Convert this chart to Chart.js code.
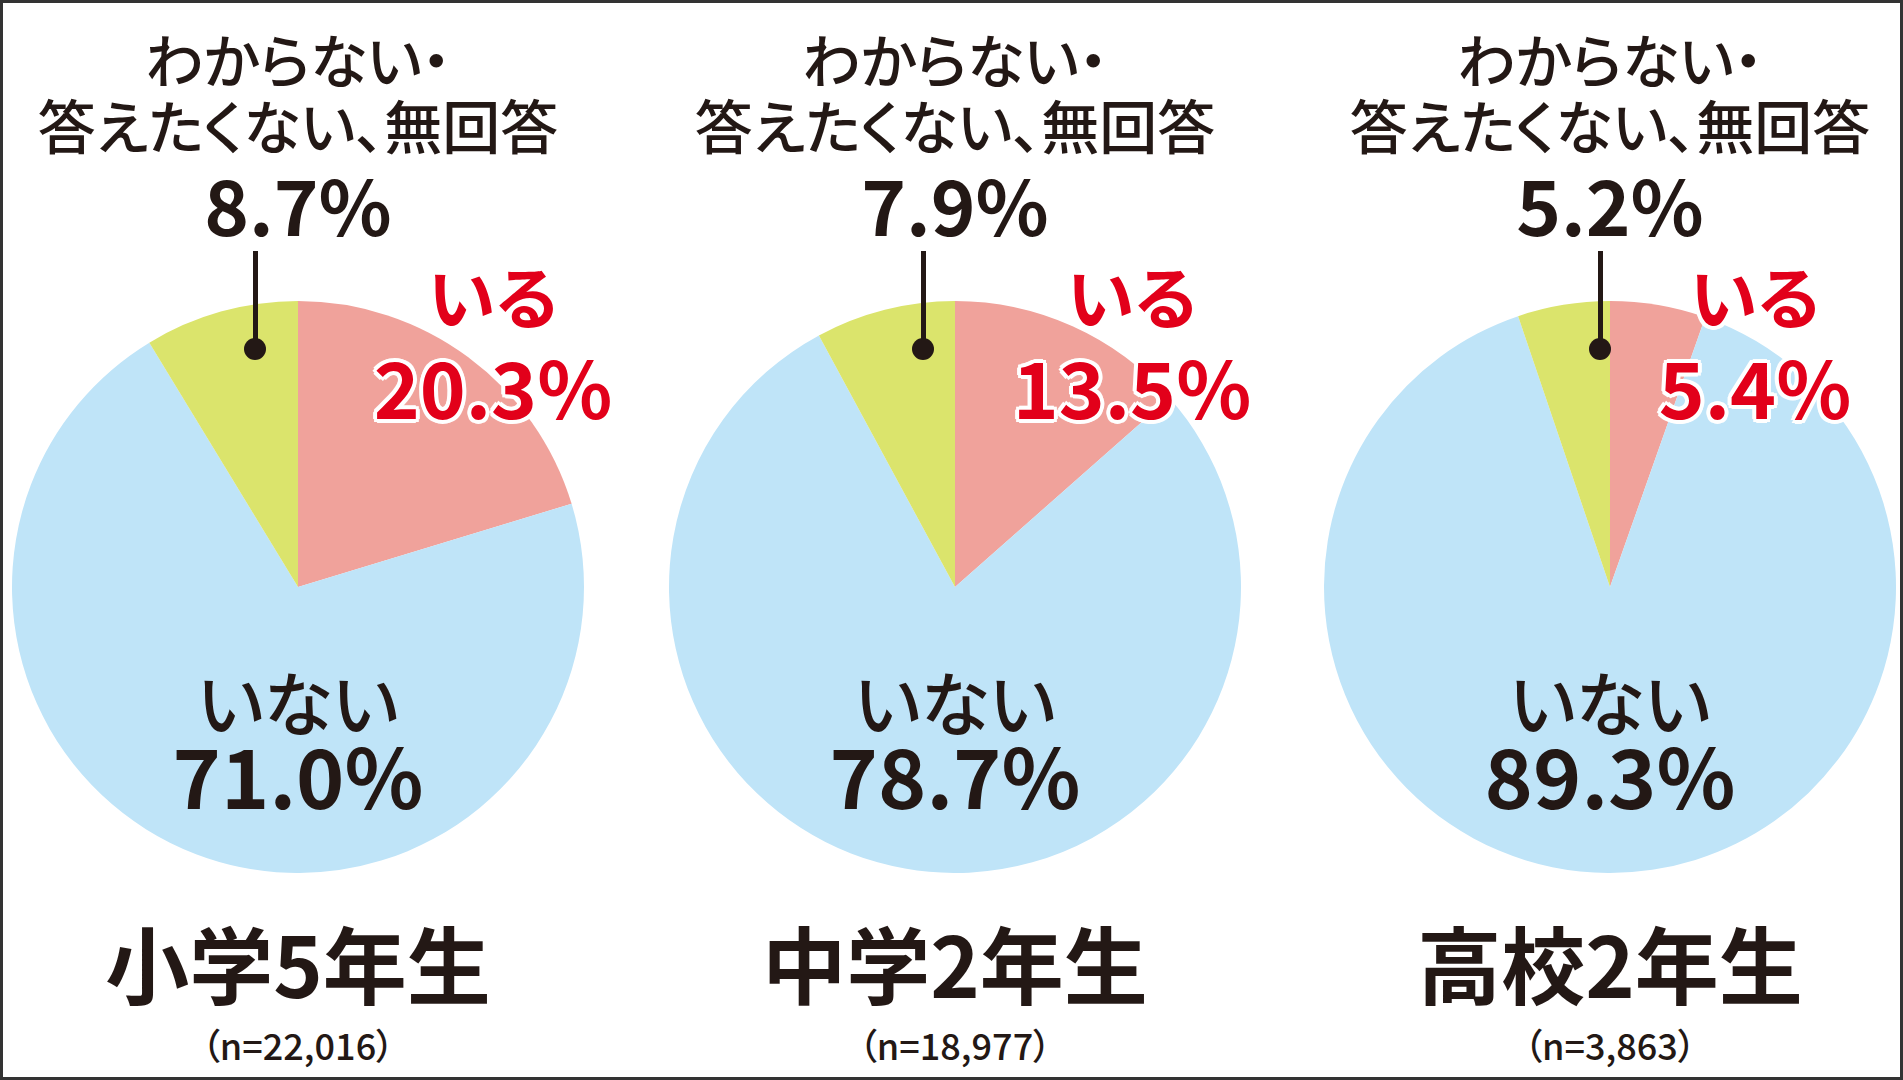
<!DOCTYPE html>
<html><head><meta charset="utf-8">
<script src="https://cdn.jsdelivr.net/npm/chart.js@4"></script>
<style>
body{margin:0;background:#fff;font-family:"Noto Sans CJK JP","Noto Sans",sans-serif;color:#231815}
#frame{position:absolute;left:0;top:0;width:1897px;height:1074px;border:3px solid #333;overflow:hidden}
.box{position:absolute;width:572px;height:572px}
.t{position:absolute;transform:translate(-50%,-50%);white-space:nowrap;line-height:1;font-feature-settings:"palt"}
.red{color:#e2001a;font-weight:700;text-shadow:0 0 4px #fff,0 0 4px #fff,3px 3px 0 #fff,-3px -3px 0 #fff,3px -3px 0 #fff,-3px 3px 0 #fff,0 4px 0 #fff,0 -4px 0 #fff,4px 0 0 #fff,-4px 0 0 #fff}
.lead{position:absolute;width:5px;background:#231815}
.dot{position:absolute;width:22px;height:22px;border-radius:50%;background:#231815}
</style></head><body>
<div id="frame"></div>
<script>
// data
const groups = ["小学5年生","中学2年生","高校2年生"];
const sampleSizes = ["（n=22,016）","（n=18,977）","（n=3,863）"];
const sliceLabels = ["いる","いない","わからない・答えたくない、無回答"];
const iru = [20.3, 13.5, 5.4];
const inai = [71.0, 78.7, 89.3];
const unknown = [8.7, 7.9, 5.2];
const colors = ["#f0a29b","#bfe4f8","#dbe46c"];

const centersX = [295, 952, 1607];
const cy = 584, r = 286;
const leadX = [252, 920, 1597];
const iruX = [490, 1129, 1752];
const frame = document.getElementById("frame");

function addText(txt, x, y, size, weight, cls){
  let d = document.createElement("div");
  d.className = "t" + (cls ? " " + cls : "");
  d.textContent = txt;
  d.style.left = x + "px"; d.style.top = y + "px";
  d.style.fontSize = size + "px"; d.style.fontWeight = weight;
  frame.appendChild(d);
}

groups.forEach((g, i) => {
  let box = document.createElement("div");
  box.className = "box";
  box.style.left = (centersX[i] - r) + "px";
  box.style.top = (cy - r) + "px";
  let c = document.createElement("canvas");
  box.appendChild(c);
  frame.appendChild(box);
  new Chart(c, {
    type: "pie",
    data: {labels: sliceLabels, datasets: [{data: [iru[i], inai[i], unknown[i]], backgroundColor: colors, borderWidth: 0}]},
    options: {responsive: true, maintainAspectRatio: false, animation: false,
      layout: {padding: 0},
      plugins: {legend: {display: false}, tooltip: {enabled: false}}}
  });

  let cx = centersX[i];
  addText("わからない・", cx, 55, 58, 500);
  addText("答えたくない、無回答", cx, 121, 58, 500);
  addText(unknown[i].toFixed(1) + "%", cx, 200, 76, 700);

  let l = document.createElement("div");
  l.className = "lead";
  l.style.left = (leadX[i] - 2) + "px"; l.style.top = "248px"; l.style.height = "98px";
  frame.appendChild(l);
  let dt = document.createElement("div");
  dt.className = "dot";
  dt.style.left = (leadX[i] - 11) + "px"; dt.style.top = "335px";
  frame.appendChild(dt);

  addText("いる", iruX[i], 292, 68, 700, "red");
  addText(iru[i].toFixed(1) + "%", iruX[i], 382, 78, 700, "red");
  addText("いない", cx, 698, 70, 500);
  addText(inai[i].toFixed(1) + "%", cx, 771, 82, 700);
  addText(g, cx, 959, 84, 700);
  addText(sampleSizes[i], cx, 1041, 36, 500);
});
</script>
</body></html>
